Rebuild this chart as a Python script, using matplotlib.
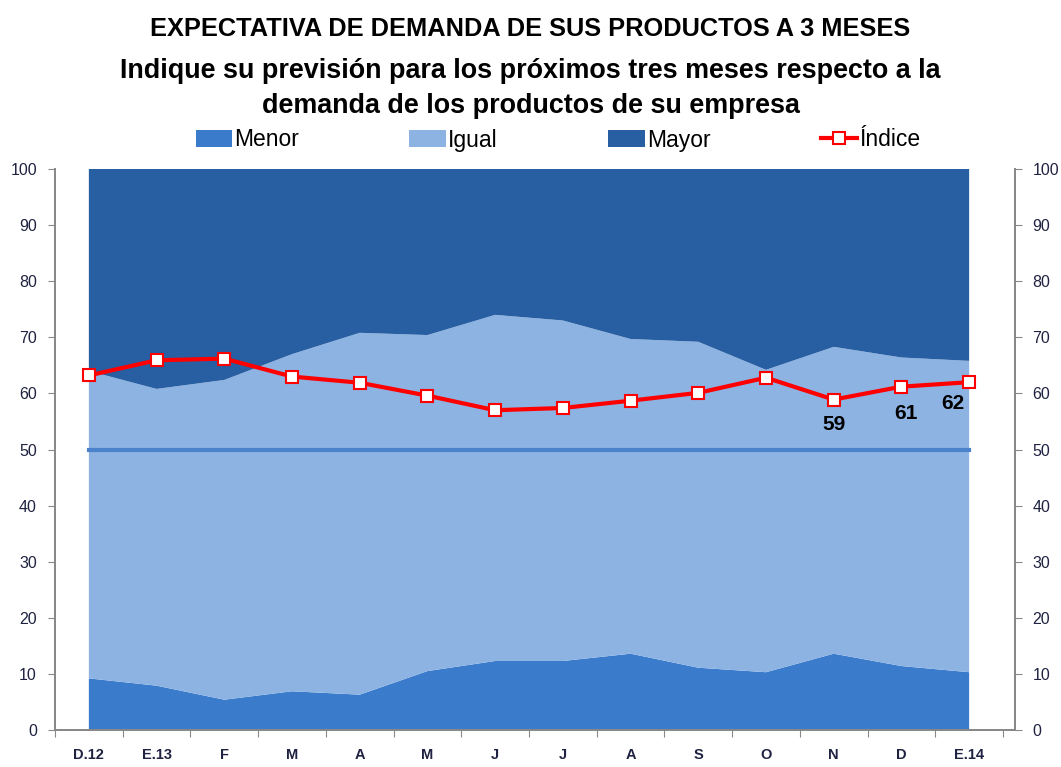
"""Expectativa de demanda a 3 meses: stacked area + index line."""

import matplotlib.pyplot as plt
import numpy as np

# ---------------------------------------------------------------------------
# Data
# ---------------------------------------------------------------------------

months = ["D.12", "E.13", "F", "M", "A", "M", "J", "J", "A", "S", "O", "N", "D", "E.14"]
menor = [9.2, 7.9, 5.4, 6.9, 6.3, 10.5, 12.3, 12.3, 13.6, 11.1, 10.3, 13.6, 11.4, 10.3]
igual_top = [64.0, 60.8, 62.4, 67.0, 70.8, 70.4, 74.0, 73.0, 69.7, 69.2, 64.2, 68.3, 66.4, 65.8]
igual = [t - m for t, m in zip(igual_top, menor)]
mayor = [100 - t for t in igual_top]
indice = [63.2, 65.9, 66.2, 63.0, 61.9, 59.6, 57.0, 57.4, 58.7, 60.1, 62.8, 58.9, 61.2, 62.0]
reference = [50] * len(months)
labelled = {11: "59", 12: "61", 13: "62"}

COL_MENOR = "#3a7bcc"
COL_IGUAL = "#8db3e2"
COL_MAYOR = "#275fa2"
COL_REF = "#4a82cc"
COL_IDX = "#ff0000"
TXT = "#1f2240"

plt.rcParams["font.family"] = ["Liberation Sans", "DejaVu Sans"]

W, H = 1061, 767
fig = plt.figure(figsize=(W / 100, H / 100), dpi=100)
left, right, bottom, top = 55, 1015, 730, 169
ax = fig.add_axes([left / W, 1 - bottom / H, (right - left) / W, (bottom - top) / H])

x = np.arange(len(months))
ax.stackplot(x, menor, igual, mayor, colors=[COL_MENOR, COL_IGUAL, COL_MAYOR],
             labels=["Menor", "Igual", "Mayor"], linewidth=0)
ax.plot(x, reference, color=COL_REF, lw=3, zorder=3)
ax.plot(x, indice, color=COL_IDX, lw=3, marker="s", ms=9, mfc="white",
        mec=COL_IDX, mew=1.5, label="Índice", zorder=4)

offsets = {11: (0, -18), 12: (3, -19), 13: (-12, -15)}
for i, txt in labelled.items():
    ax.annotate(txt, (x[i], indice[i]), xytext=offsets[i], textcoords="offset points",
                ha="center", va="center", fontsize=15, fontweight="bold", color="black",
                zorder=5)

# axes limits: categories sit between ticks, small gap before right axis
ax.set_xlim(-0.5, 13.5 + 12 / 67.7)
ax.set_ylim(0, 100)

ax.set_xticks(np.arange(-0.5, 14, 1))
ax.set_xticklabels([])
ax.set_xticks(x, minor=True)
ax.set_xticklabels(months, minor=True, fontsize=10.5, fontweight="bold", color=TXT)
ax.tick_params(axis="x", which="major", length=5, color="#888888", direction="out")
ax.tick_params(axis="x", which="minor", length=0, pad=13)

ax.set_yticks(np.arange(0, 101, 10))
ax.tick_params(axis="y", length=5, color="#888888", labelsize=11.5, labelcolor=TXT, pad=8)

ax2 = ax.twinx()
ax2.set_ylim(0, 100)
ax2.set_yticks(np.arange(0, 101, 10))
ax2.tick_params(axis="y", length=5, color="#888888", labelsize=11.5, labelcolor=TXT, pad=7.5)

for a in (ax, ax2):
    a.spines["top"].set_visible(False)
    for s in ("left", "right", "bottom"):
        a.spines[s].set_color("#888888")
        a.spines[s].set_linewidth(1.3)

# titles
fig.text(0.5, 1 - 29 / H, "EXPECTATIVA DE DEMANDA DE SUS PRODUCTOS A 3 MESES",
         ha="center", va="center", fontsize=18.3, fontweight="bold")
fig.text(0.5, 1 - 71 / H, "Indique su previsión para los próximos tres meses respecto a la",
         ha="center", va="center", fontsize=19.4, fontweight="bold")
fig.text(0.5, 1 - 106 / H, "demanda de los productos de su empresa",
         ha="center", va="center", fontsize=19.4, fontweight="bold")

# legend row
handles, labels = ax.get_legend_handles_labels()
fig.legend(handles, labels, loc="center", bbox_to_anchor=(0.526, 1 - 140 / H), ncol=4,
           frameon=False, fontsize=16.5, handlelength=1.6, handleheight=0.75,
           handletextpad=0.1, columnspacing=4.8)

fig.savefig("out.png", dpi=100)
